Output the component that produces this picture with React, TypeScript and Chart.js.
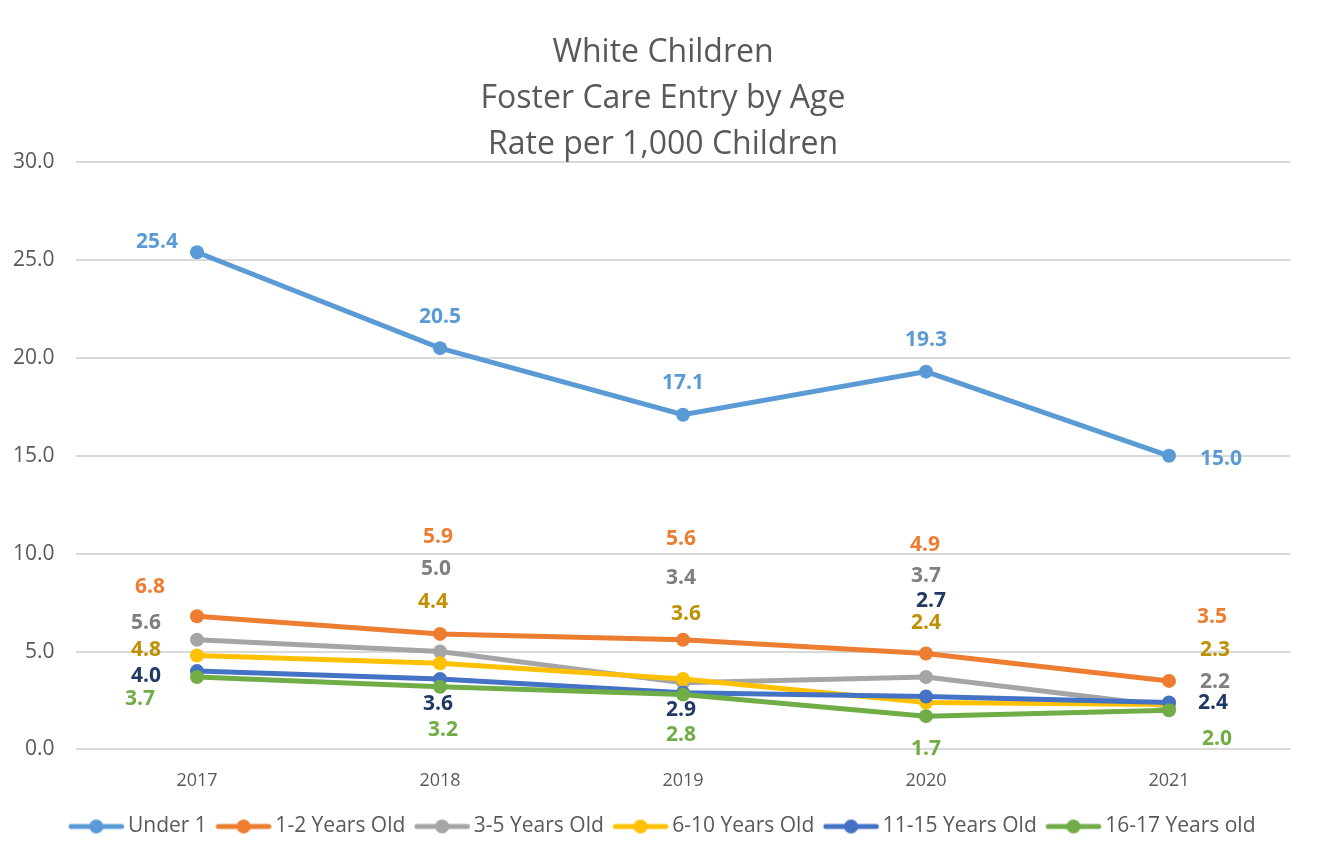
import React, { useEffect, useRef } from "react";
import { Chart, registerables } from "chart.js";

Chart.register(...registerables);

const years = ["2017", "2018", "2019", "2020", "2021"];
const under1 = [25.4, 20.5, 17.1, 19.3, 15.0];
const age1to2 = [6.8, 5.9, 5.6, 4.9, 3.5];
const age3to5 = [5.6, 5.0, 3.4, 3.7, 2.2];
const age6to10 = [4.8, 4.4, 3.6, 2.4, 2.3];
const age11to15 = [4.0, 3.6, 2.9, 2.7, 2.4];
const age16to17 = [3.7, 3.2, 2.8, 1.7, 2.0];

const seriesNames = [
  "Under 1",
  "1-2 Years Old",
  "3-5 Years Old",
  "6-10 Years Old",
  "11-15 Years Old",
  "16-17 Years old",
];
const seriesValues = [under1, age1to2, age3to5, age6to10, age11to15, age16to17];
const lineColors = ["#5B9BD5", "#ED7D31", "#A5A5A5", "#FFC000", "#4472C4", "#70AD47"];
const labelColors = ["#5B9BD5", "#ED7D31", "#7F7F7F", "#BF9000", "#203864", "#70AD47"];

const titleLines = ["White Children", "Foster Care Entry by Age", "Rate per 1,000 Children"];

// data label offsets from their point, in pixels [dx, dy]
const offUnder1 = [[-40, -10], [0, -31], [0, -32], [0, -32], [52, 3]];
const off1to2 = [[-47, -29], [-2, -97], [-2, -101], [-1, -108], [43, -64]];
const off3to5 = [[-51, -17], [-4, -83], [-2, -105], [0, -101], [46, -24]];
const off6to10 = [[-51, -5], [-7, -61], [3, -65], [0, -79], [46, -54]];
const off11to15 = [[-51, 5], [-2, 25], [-2, 17], [5, -96], [44, 1]];
const off16to17 = [[-57, 22], [3, 43], [-2, 40], [0, 33], [48, 29]];
const labelOffsets = [offUnder1, off1to2, off3to5, off6to10, off11to15, off16to17];

const FONT = "'Open Sans', 'Noto Sans', sans-serif";
const TEXT = "#595959";

function legendSymbol(color: string): HTMLCanvasElement {
  const c = document.createElement("canvas");
  c.width = 64;
  c.height = 16;
  const ctx = c.getContext("2d")!;
  ctx.strokeStyle = color;
  ctx.lineWidth = 5;
  ctx.lineCap = "round";
  ctx.beginPath();
  ctx.moveTo(9, 8);
  ctx.lineTo(59.5, 8);
  ctx.stroke();
  ctx.fillStyle = color;
  ctx.beginPath();
  ctx.arc(34.25, 8, 7, 0, Math.PI * 2);
  ctx.fill();
  return c;
}

const dataLabelPlugin = {
  id: "dataLabels",
  afterDatasetsDraw(chart: any) {
    const ctx = chart.ctx;
    ctx.save();
    ctx.font = `bold 21px ${FONT}`;
    ctx.textAlign = "center";
    ctx.textBaseline = "middle";
    chart.data.datasets.forEach((ds: any, di: number) => {
      const meta = chart.getDatasetMeta(di);
      ctx.fillStyle = labelColors[di];
      meta.data.forEach((pt: any, i: number) => {
        const [dx, dy] = labelOffsets[di][i];
        ctx.fillText(Number(ds.data[i]).toFixed(1), pt.x + dx, pt.y + dy);
      });
    });
    ctx.restore();
  },
};

export default function App() {
  const ref = useRef<HTMLCanvasElement>(null);

  useEffect(() => {
    if (!ref.current) return;
    const symbols = lineColors.map(legendSymbol);
    const chart = new Chart(ref.current, {
      type: "line",
      data: {
        labels: years,
        datasets: seriesNames.map((name, i) => ({
          label: name,
          data: seriesValues[i],
          borderColor: lineColors[i],
          backgroundColor: lineColors[i],
          pointBackgroundColor: lineColors[i],
          pointBorderColor: lineColors[i],
          pointBorderWidth: 0,
          pointRadius: 7,
          borderWidth: 5,
          tension: 0,
          order: -i,
        })),
      },
      options: {
        animation: false,
        responsive: false,
        layout: { padding: { left: 0, right: 0, top: 0, bottom: 11 } },
        scales: {
          x: {
            offset: true,
            grid: { display: false },
            border: { display: false },
            ticks: { color: TEXT, font: { family: FONT, size: 18 }, padding: 13 },
          },
          y: {
            min: 0,
            max: 30,
            afterFit: (s: any) => {
              s.width = 67.5;
            },
            grid: { color: "#D9D9D9", lineWidth: 2, drawTicks: false },
            border: { display: false },
            ticks: {
              stepSize: 5,
              color: TEXT,
              padding: 21,
              font: { family: FONT, size: 21 },
              callback: (v: any) => Number(v).toFixed(1),
            },
          },
          yRightSpace: {
            type: "linear",
            position: "right",
            min: 0,
            max: 1,
            afterFit: (s: any) => {
              s.width = 27.5;
            },
            grid: { display: false, drawTicks: false },
            border: { display: false },
            ticks: { display: false },
          },
        },
        plugins: {
          title: {
            display: true,
            text: titleLines,
            color: TEXT,
            font: { family: FONT, size: 32, weight: "normal", lineHeight: 1.44 },
            padding: { top: 22, bottom: -6 },
          },
          legend: {
            position: "bottom",
            labels: {
              color: TEXT,
              font: { family: FONT, size: 21 },
              usePointStyle: true,
              pointStyleWidth: 47,
              padding: 11,
              sort: (a: any, b: any) => a.datasetIndex - b.datasetIndex,
              generateLabels: (c: any) => {
                const items = Chart.defaults.plugins.legend.labels.generateLabels(c);
                return items.map((it: any) => ({ ...it, pointStyle: symbols[it.datasetIndex] }));
              },
            },
          },
          tooltip: { enabled: false },
        },
      },
      plugins: [dataLabelPlugin],
    });
    return () => chart.destroy();
  }, []);

  return (
    <div
      style={{
        width: 1312,
        height: 872,
        margin: "-1px 0 0 -1px",
        border: "1px solid #D9D9D9",
        boxSizing: "border-box",
        background: "#fff",
      }}
    >
      <canvas ref={ref} width={1310} height={850} style={{ display: "block" }} />
    </div>
  );
}
